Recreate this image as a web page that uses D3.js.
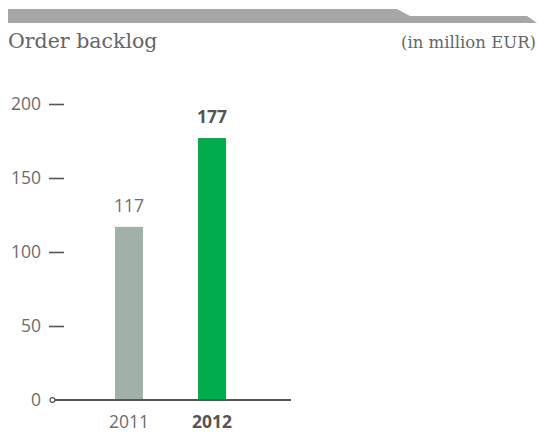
<!DOCTYPE html>
<html>
<head>
<meta charset="utf-8">
<script src="https://cdn.jsdelivr.net/npm/d3@7"></script>
<style>
  html, body { margin: 0; padding: 0; background: #fff; }
  svg { display: block; }
</style>
</head>
<body>
<svg id="chart" width="538" height="432"></svg>
<script>
// Order backlog, in million EUR
const years = ["2011", "2012"];
const backlog = [117, 177];
const yTicks = [0, 50, 100, 150, 200];
const title = "Order backlog";
const unit = "(in million EUR)";

const svg = d3.select("#chart");
const sans = "'Open Sans', 'Noto Sans', sans-serif";
const serif = "'DejaVu Serif', serif";
const fs = 17.5;

// header band
svg.append("path")
  .attr("d", "M8,9 L397,9 L410,16 L527,16 L537,23 L8,23 Z")
  .attr("fill", "#a6a7a9");

svg.append("text")
  .attr("x", 8).attr("y", 48)
  .attr("font-family", serif).attr("font-size", 20.5)
  .attr("fill", "#666")
  .text(title);

svg.append("text")
  .attr("x", 536).attr("y", 48)
  .attr("text-anchor", "end")
  .attr("font-family", serif).attr("font-size", 16.5)
  .attr("fill", "#666")
  .text(unit);

// scales
const y = d3.scaleLinear().domain([0, 200]).range([400, 104]);
const x = d3.scaleBand().domain(years).range([115, 226]).paddingInner(0.663).paddingOuter(0);

// y axis: short dashes with labels
const yAxis = svg.append("g").attr("transform", "translate(64,0)")
  .call(d3.axisLeft(y).tickValues(yTicks.filter(d => d > 0)).tickSize(15).tickPadding(8));
yAxis.select(".domain").remove();
yAxis.selectAll(".tick line").attr("stroke", "#555").attr("stroke-width", 1.6);
yAxis.selectAll(".tick text")
  .attr("font-family", sans).attr("font-size", fs).attr("fill", "#6d6d6d");

// zero label with circle marker
svg.append("text")
  .attr("x", 41).attr("y", y(0)).attr("dy", "0.35em")
  .attr("text-anchor", "end")
  .attr("font-family", sans).attr("font-size", fs).attr("fill", "#6d6d6d")
  .text(yTicks[0]);

// bars
const colors = ["#a2b1a8", "#00ac4e"];
svg.append("g").selectAll("rect")
  .data(years)
  .join("rect")
  .attr("x", d => x(d))
  .attr("y", (d, i) => y(backlog[i]))
  .attr("width", x.bandwidth())
  .attr("height", (d, i) => y(0) - y(backlog[i]))
  .attr("fill", (d, i) => colors[i]);

// baseline
svg.append("line")
  .attr("x1", 55).attr("x2", 291)
  .attr("y1", y(0)).attr("y2", y(0))
  .attr("stroke", "#555").attr("stroke-width", 2);
svg.append("circle")
  .attr("cx", 52.5).attr("cy", y(0)).attr("r", 2.4)
  .attr("fill", "#fff").attr("stroke", "#555").attr("stroke-width", 1.2);

// value labels
svg.append("g").selectAll("text")
  .data(years)
  .join("text")
  .attr("x", d => x(d) + x.bandwidth() / 2)
  .attr("y", (d, i) => y(backlog[i]) - 15)
  .attr("text-anchor", "middle")
  .attr("font-family", sans).attr("font-size", fs)
  .attr("font-weight", (d, i) => i === 1 ? 700 : 400)
  .attr("fill", (d, i) => i === 1 ? "#555" : "#6d6d6d")
  .text((d, i) => backlog[i]);

// category labels
svg.append("g").selectAll("text")
  .data(years)
  .join("text")
  .attr("x", d => x(d) + x.bandwidth() / 2)
  .attr("y", 428)
  .attr("text-anchor", "middle")
  .attr("font-family", sans).attr("font-size", fs)
  .attr("font-weight", (d, i) => i === 1 ? 700 : 400)
  .attr("fill", (d, i) => i === 1 ? "#555" : "#6d6d6d")
  .text(d => d);
</script>
</body>
</html>
